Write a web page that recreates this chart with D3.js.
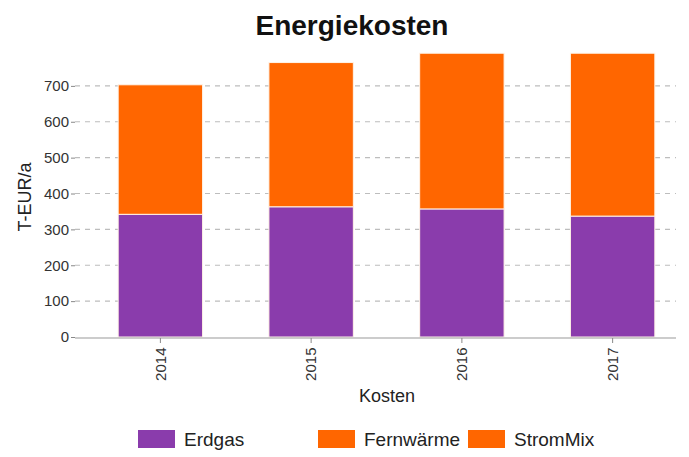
<!DOCTYPE html>
<html><head><meta charset="utf-8">
<script src="https://cdn.jsdelivr.net/npm/d3@7"></script>
<style>body{margin:0;background:#fff;} svg{display:block;font-family:Arial,"Liberation Sans",sans-serif;}</style>
</head><body>
<svg id="c" width="689" height="457"></svg>
<script>
const categories = ["2014", "2015", "2016", "2017"];
const seriesNames = ["Erdgas", "Fernwärme", "StromMix"];
const erdgas = [342, 363, 357, 337];
const fernwaerme = [361, 402, 434, 454];
const strommix = [0, 0, 0, 0];
const yTicks = [0, 100, 200, 300, 400, 500, 600, 700];
const colors = ["#8a3cac", "#ff6600", "#ff6600"];

const svg = d3.select("#c");
const x = d3.scaleBand().domain(categories).range([85, 688]).paddingInner(0.44).paddingOuter(0.22);
const y = d3.scaleLinear().domain([0, 800]).range([337, 50]);

const rows = categories.map((c, i) => ({cat: c, Erdgas: erdgas[i], "Fernwärme": fernwaerme[i], StromMix: strommix[i]}));
const stack = d3.stack().keys(seriesNames)(rows);

// grid
svg.append("g").selectAll("line").data(yTicks.filter(d => d > 0)).join("line")
  .attr("x1", 75).attr("x2", 676).attr("y1", d => y(d)).attr("y2", d => y(d))
  .attr("stroke", "#bdbdbd").attr("stroke-width", 1.2).attr("stroke-dasharray", "5,5");

// bars
stack.forEach((s, si) => {
  svg.append("g").selectAll("rect").data(s).join("rect")
    .attr("x", d => x(d.data.cat)).attr("width", x.bandwidth())
    .attr("y", d => y(d[1])).attr("height", d => Math.max(0, y(d[0]) - y(d[1])))
    .attr("fill", colors[si]).attr("stroke", "#fff4e8").attr("stroke-width", d => (d[1] - d[0]) > 0 ? 1 : 0);
});

// y axis
const ya = svg.append("g").attr("transform", "translate(75,0)")
  .call(d3.axisLeft(y).tickValues(yTicks).tickSize(4).tickPadding(2));
ya.select(".domain").remove();
ya.selectAll("line").attr("stroke", "#888");
ya.selectAll("text").attr("font-size", 15).attr("fill", "#333");

// x axis
svg.append("line").attr("x1", 75).attr("x2", 676).attr("y1", 338).attr("y2", 338).attr("stroke", "#999").attr("stroke-width", 1.2);
const xa = svg.append("g").attr("transform", "translate(0,338)")
  .call(d3.axisBottom(x).tickSize(5).tickPadding(3));
xa.select(".domain").remove();
xa.selectAll("line").attr("stroke", "#888");
xa.selectAll("text").attr("font-size", 15).attr("fill", "#333")
  .attr("text-anchor", "end").attr("dx", "-0.3em").attr("dy", "0.35em").attr("x", 0).attr("y", 0)
  .attr("transform", "translate(0,5) rotate(-90)");

// titles
svg.append("text").attr("x", 352).attr("y", 35).attr("text-anchor", "middle")
  .attr("font-size", 28).attr("font-weight", "bold").attr("fill", "#111").text("Energiekosten");
svg.append("text").attr("transform", "translate(31,197) rotate(-90)").attr("text-anchor", "middle")
  .attr("font-size", 18).attr("fill", "#222").text("T-EUR/a");
svg.append("text").attr("x", 387).attr("y", 402).attr("text-anchor", "middle")
  .attr("font-size", 18).attr("fill", "#222").text("Kosten");

// legend
const legX = [138, 318, 468];
const lg = svg.append("g");
seriesNames.forEach((n, i) => {
  lg.append("rect").attr("x", legX[i]).attr("y", 430).attr("width", 37).attr("height", 18).attr("fill", colors[i]);
  lg.append("text").attr("x", legX[i] + 46).attr("y", 446).attr("font-size", 19).attr("fill", "#222").text(n);
});
</script>
</body></html>
